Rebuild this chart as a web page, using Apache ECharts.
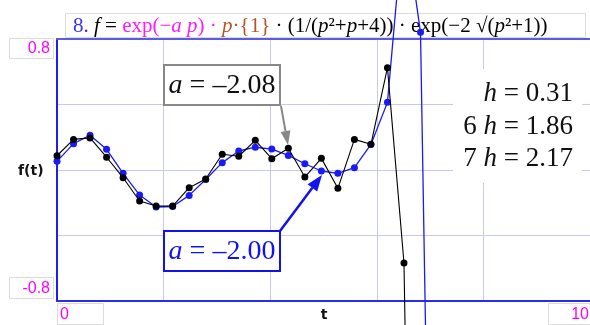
<!DOCTYPE html>
<html>
<head>
<meta charset="utf-8">
<script src="https://cdn.jsdelivr.net/npm/echarts@6/dist/echarts.min.js"></script>
<style>
  html, body { margin: 0; padding: 0; background: #fff; }
  #chart { width: 590px; height: 325px; }
</style>
</head>
<body>
<div id="chart"></div>
<script>
// Sample times t_k = k·h with h = 0.31
const tValues = [0, 0.31, 0.62, 0.93, 1.24, 1.55, 1.86, 2.17, 2.48, 2.79, 3.10, 3.41,
                 3.72, 4.03, 4.34, 4.65, 4.96, 5.27, 5.58, 5.89, 6.20, 6.51, 6.82, 7.13];

// Numerical solution for a = -2.08 (black)
const seriesA208 = [0.087, 0.187, 0.196, 0.078, -0.047, -0.189, -0.220, -0.220, -0.108, -0.055,
                    0.096, 0.084, 0.181, 0.069, 0.133, -0.043, 0.071, -0.112, 0.187, 0.157,
                    0.625, -0.568, -6.5];

// Numerical solution for a = -2.00 (blue)
const seriesA200 = [0.053, 0.161, 0.212, 0.126, -0.020, -0.153, -0.226, -0.223, -0.155, -0.058,
                    0.045, 0.116, 0.139, 0.128, 0.089, 0.038, -0.006, -0.020, 0.014, 0.156,
                    0.413, 1.55, 0.841, -5.1];

const yTickLabels = ['0.8', '-0.8'];
const xTickLabels = ['0', '10'];
const stepLines = ['h = 0.31', '6 h = 1.86', '7 h = 2.17'];
const annotA = 'a = –2.08';
const annotB = 'a = –2.00';

const pairs = (vals) => vals.map((v, i) => [tValues[i], v]);

const chart = echarts.init(document.getElementById('chart'), null, { renderer: 'canvas' });

const serif = '"Liberation Serif", "Times New Roman", serif';
const sans = '"Liberation Sans", Arial, sans-serif';

// rich text helper: italic variable names
function italicize(str, chars) {
  let out = '';
  for (const ch of str) {
    out += chars.includes(ch) ? '{i|' + ch + '}' : '{n|' + ch + '}';
  }
  return out;
}

function arrow(x1, y1, x2, y2, color, width, headLen, headW) {
  const dx = x2 - x1, dy = y2 - y1;
  const L = Math.hypot(dx, dy);
  const ux = dx / L, uy = dy / L;
  const bx = x2 - ux * headLen, by = y2 - uy * headLen;
  const px = -uy * headW / 2, py = ux * headW / 2;
  return [
    { type: 'line', z: 5, shape: { x1, y1, x2: bx, y2: by }, style: { stroke: color, lineWidth: width } },
    { type: 'polygon', z: 5, shape: { points: [[x2, y2], [bx + px, by + py], [bx - px, by - py]] },
      style: { fill: color } }
  ];
}

const TF = '21px ';
const titleRich = {
  bl: { fill: '#3535f0', font: TF + serif },
  k: { fill: '#000', font: TF + serif },
  ki: { fill: '#000', font: 'italic ' + TF + serif },
  m: { fill: '#ff1aff', font: TF + serif },
  mi: { fill: '#ff1aff', font: 'italic ' + TF + serif },
  br: { fill: '#b4562a', font: TF + serif },
  bri: { fill: '#b4562a', font: 'italic ' + TF + serif }
};
const titleText =
  '{bl|8.}{k| }{ki|f}{k| = }{m|exp(−}{mi|a}{m| }{mi|p}{m|) · }{bri|p}{br|·{1}' +
  '}{k| · (1/(}{ki|p}{k|²+}{ki|p}{k|+4)) · exp(−2 √(}{ki|p}{k|²+1))}';

function boxLabel(x, y, w, h, text, align, tx) {
  return [
    { type: 'rect', z: 3, shape: { x: x + 0.5, y: y + 0.5, width: w, height: h },
      style: { fill: '#fff', stroke: '#dcdcdc', lineWidth: 1 } },
    { type: 'text', z: 4, style: { x: tx, y: y + h / 2 + 1, text, fill: '#ff00ff',
      font: '16px ' + sans, align, verticalAlign: 'middle' } }
  ];
}

const graphics = [
  // formula header
  { type: 'rect', z: 1, shape: { x: 65.5, y: 13.5, width: 520, height: 24 },
    style: { fill: '#fff', stroke: '#dcdcdc', lineWidth: 1 } },
  { type: 'text', z: 1, style: { x: 73, y: 26, text: titleText, rich: titleRich,
    fill: '#b4562a', font: TF + serif, verticalAlign: 'middle' } },

  // step-size panel
  { type: 'rect', z: 1, shape: { x: 453, y: 69, width: 129, height: 114 },
    style: { fill: '#fff' } },
  ...stepLines.map((s, k) => ({
    type: 'text', z: 4,
    style: { x: 573, y: [94, 127, 159][k], text: italicize(s, 'h'), align: 'right', verticalAlign: 'middle',
      rich: { n: { fill: '#111', font: '27px ' + serif }, i: { fill: '#111', font: 'italic 27px ' + serif } } }
  })),

  // annotation a = -2.08
  { type: 'rect', z: 5, shape: { x: 164, y: 65, width: 116, height: 40 },
    style: { fill: '#fff', stroke: '#888', lineWidth: 2 } },
  { type: 'text', z: 6, style: { x: 222, y: 86, text: italicize(annotA, 'a'), align: 'center', verticalAlign: 'middle',
      rich: { n: { fill: '#111', font: '28px ' + serif }, i: { fill: '#111', font: 'italic 28px ' + serif } } } },
  ...arrow(281, 106, 288, 145, '#888', 2, 14, 10),

  // annotation a = -2.00
  { type: 'rect', z: 5, shape: { x: 164, y: 231, width: 116, height: 40 },
    style: { fill: '#fff', stroke: '#1212ee', lineWidth: 2 } },
  { type: 'text', z: 6, style: { x: 222, y: 252, text: italicize(annotB, 'a'), align: 'center', verticalAlign: 'middle',
      rich: { n: { fill: '#1212ee', font: '28px ' + serif }, i: { fill: '#1212ee', font: 'italic 28px ' + serif } } } },
  ...arrow(280, 231, 322, 175, '#1212ee', 2.5, 16, 12),

  // axis tick labels
  ...boxLabel(9, 38, 44, 20, yTickLabels[0], 'right', 50),
  ...boxLabel(9, 277, 44, 21, yTickLabels[1], 'right', 50),
  ...boxLabel(57, 303, 46, 21, xTickLabels[0], 'left', 60),
  ...boxLabel(548, 303, 46, 21, xTickLabels[1], 'right', 589),

  // axis names
  { type: 'text', z: 4, style: { x: 18, y: 171, text: 'f(t)', fill: '#111',
      font: 'bold 14px "DejaVu Sans", sans-serif', verticalAlign: 'middle' } },
  { type: 'text', z: 4, style: { x: 324, y: 315, text: 't', fill: '#111', align: 'center',
      font: 'bold 14px "DejaVu Sans", sans-serif', verticalAlign: 'middle' } }
];

const option = {
  animation: false,
  backgroundColor: '#fff',
  grid: { left: 57, right: -5, top: 39, bottom: 24 },
  xAxis: [
    {
      type: 'value', min: 0, max: 10, interval: 2, position: 'bottom',
      axisLine: { show: true, onZero: false, lineStyle: { color: '#2a2af0', width: 2 } },
      axisTick: { show: false }, axisLabel: { show: false },
      splitLine: { show: true, lineStyle: { color: '#c8c8fb', width: 1 } }
    },
    {
      type: 'value', min: 0, max: 10, interval: 2, position: 'top',
      axisLine: { show: true, onZero: false, lineStyle: { color: '#5c5ce2', width: 2 } },
      axisTick: { show: false }, axisLabel: { show: false }, splitLine: { show: false }
    }
  ],
  yAxis: {
    type: 'value', min: -0.8, max: 0.8, interval: 0.4,
    axisLine: { show: true, onZero: false, lineStyle: { color: '#1e1ef2', width: 2 } },
    axisTick: { show: false }, axisLabel: { show: false },
    splitLine: { show: true, lineStyle: { color: '#c8c8fb', width: 1 } }
  },
  series: [
    {
      name: 'a = -2.00', type: 'line', data: pairs(seriesA200), clip: false, z: 3,
      symbol: 'circle', symbolSize: 7, showAllSymbol: true,
      lineStyle: { color: '#1a1af5', width: 1.3 }, itemStyle: { color: '#1a1af5' }
    },
    {
      name: 'a = -2.08', type: 'line', data: pairs(seriesA208), clip: false, z: 4,
      symbol: 'circle', symbolSize: 7, showAllSymbol: true,
      lineStyle: { color: '#000', width: 1.1 }, itemStyle: { color: '#000' }
    }
  ],
  graphic: { elements: graphics }
};

chart.setOption(option);
</script>
</body>
</html>
